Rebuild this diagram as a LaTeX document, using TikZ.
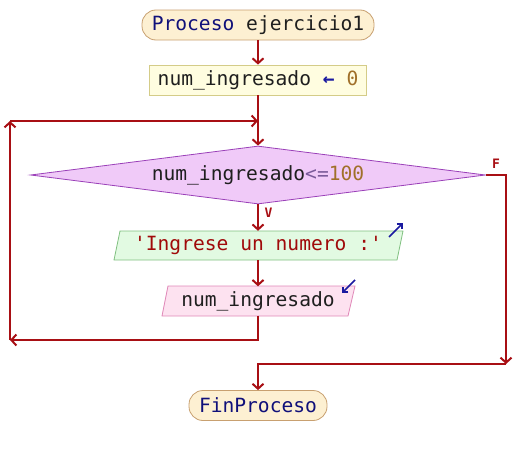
\documentclass[tikz,border=0pt]{standalone}
\usepackage{fontspec}
\setmonofont{DejaVu Sans Mono}
\usetikzlibrary{arrows.meta,shapes.geometric}
\definecolor{flowred}{HTML}{A80F14}
\definecolor{kwblue}{HTML}{10107A}
\definecolor{numcol}{HTML}{A0702A}
\definecolor{opcol}{HTML}{7A5A9A}
\definecolor{strcol}{HTML}{A00A0A}
\definecolor{icon}{HTML}{1A1AA0}
\definecolor{termfill}{HTML}{FDF0D2}
\definecolor{termline}{HTML}{C8A070}
\definecolor{asgfill}{HTML}{FFFDE0}
\definecolor{asgline}{HTML}{D4CC88}
\definecolor{condfill}{HTML}{F0CAF8}
\definecolor{condline}{HTML}{9A40B8}
\definecolor{outfill}{HTML}{E2FAE2}
\definecolor{outline}{HTML}{80C080}
\definecolor{infill}{HTML}{FDE2F0}
\definecolor{inline}{HTML}{E088B8}
\tikzset{
  x=1pt,y=-1pt,
  txt/.style={font=\ttfamily\fontsize{19.6}{22}\selectfont, inner sep=0pt, text=black!88},
  term/.style={txt, draw=termline, fill=termfill, line width=0.8pt, rounded corners=14pt, minimum height=30pt},
  asgbox/.style={txt, draw=asgline, fill=asgfill, line width=0.8pt, minimum height=30pt},
  condbox/.style={txt, diamond, aspect=7.8, draw=condline, fill=condfill, line width=0.8pt, minimum width=455pt, minimum height=58pt},
  iobox/.style={txt, minimum height=29pt},
  outshape/.style={draw=outline, fill=outfill, line width=0.8pt},
  inshape/.style={draw=inline, fill=infill, line width=0.8pt},
  lbl/.style={font=\ttfamily\bfseries\fontsize{13}{14}\selectfont, text=flowred, inner sep=0pt},
  flow/.style={draw=flowred, line width=2pt, -{Straight Barb[length=5pt,width=11pt]}},
  iconarr/.style={draw=icon, line width=1.6pt, -{Straight Barb[length=4pt,width=8pt]}},
}
\begin{document}
\begin{tikzpicture}
\useasboundingbox (0,0) rectangle (516,455);
% shapes for the parallelograms (drawn first, behind)
\filldraw[outshape] (120,231) -- (403,231) -- (397,260) -- (114,260) -- cycle;
\filldraw[inshape] (168,286) -- (355,286) -- (348,316) -- (162,316) -- cycle;
% nodes
\node[term, minimum width=232pt] (start) at (258,25) {\textcolor{kwblue}{Proceso} ejercicio1};
\node[asgbox, minimum width=217pt] (asg) at (258,80) {num\_ingresado \textcolor{icon}{\bfseries ←} \textcolor{numcol}{0}};
\node[condbox] (cond) at (258,175) {num\_ingresado\textcolor{opcol}{<=}\textcolor{numcol}{100}};
\node[iobox, text=strcol] (out) at (258,245.5) {'Ingrese un numero :'};
\node[iobox] (inp) at (258,301) {num\_ingresado};
\node[term, minimum width=138pt, text=kwblue] (fin) at (258,405.5) {FinProceso};
% labels
\node[lbl] (lf) at (496,164) {F};
\node[lbl] (lv) at (268.5,212.5) {V};
% io icons
\coordinate (o1) at (389,237); \coordinate (o2) at (403,223);
\draw[iconarr] (o1) -- (o2);
\coordinate (i1) at (355,280); \coordinate (i2) at (342,293);
\draw[iconarr] (i1) -- (i2);
% corner coordinates
\coordinate (lb) at (10,340);
\coordinate (lt) at (10,121);
\coordinate (jn) at (258,121);
\coordinate (rb) at (506,364);
% connectors
\draw[flow] (start.south) -- (asg.north);
\draw[flow] (asg.south) -- (cond.north);
\draw[flow] (inp.south) |- (lb);
\draw[flow] (lb) -- (lt);
\draw[flow] (lt) -- (jn);
\draw[flow] (cond.south) -- (out.north);
\draw[flow] (out.south) -- (inp.north);
\draw[flow] (cond.east) -| (rb);
\draw[flow] (rb) -| (fin.north);
\end{tikzpicture}
\end{document}
